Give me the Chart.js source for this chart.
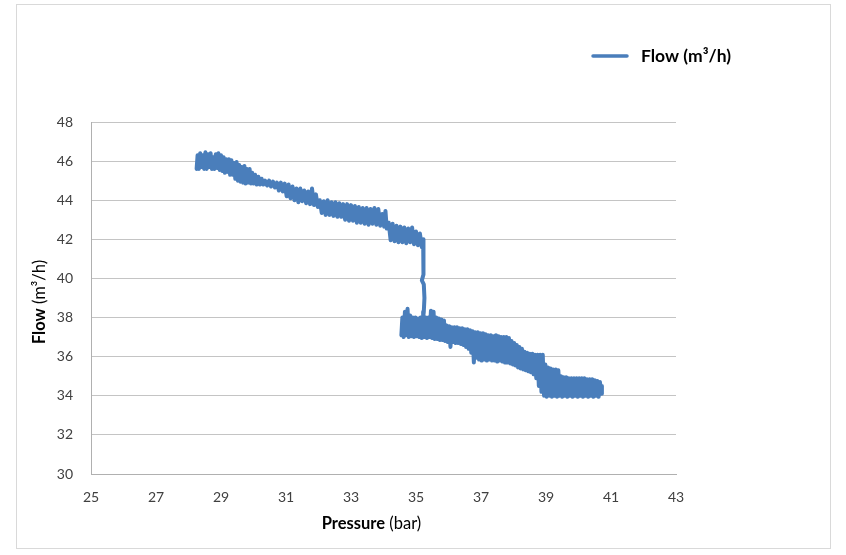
<!DOCTYPE html>
<html>
<head>
<meta charset="utf-8">
<script src="https://cdn.jsdelivr.net/npm/chart.js@4/dist/chart.umd.min.js"></script>
<style>
  html, body { margin: 0; padding: 0; background: #ffffff; }
  #wrap { width: 846px; height: 555px; position: relative; }
</style>
</head>
<body>
<div id="wrap"><canvas id="c" width="846" height="555"></canvas></div>
<script>
// ---- data (pressure in bar, flow in m3/h) ----
const seriesLabel = "Flow (m\u00B3/h)";
const xTitle = ["Pressure", " (bar)"];
const yTitle = ["Flow", " (m\u00B3/h)"];
const xTicks = [25, 27, 29, 31, 33, 35, 37, 39, 41, 43];
const yTicks = [30, 32, 34, 36, 38, 40, 42, 44, 46, 48];

// upper branch (≈28.2 – 35.2 bar)
const pressureUpper = [
  28.25,28.28,28.32,28.36,28.40,28.44,28.48,28.52,28.56,28.60,
  28.64,28.68,28.72,28.76,28.80,28.84,28.88,28.92,28.96,29.00,
  29.04,29.08,29.12,29.16,29.20,29.24,29.28,29.32,29.36,29.40,
  29.44,29.48,29.52,29.56,29.60,29.64,29.68,29.72,29.76,29.80,
  29.84,29.88,29.92,29.96,30.00,30.05,30.10,30.15,30.20,30.25,
  30.30,30.36,30.42,30.48,30.54,30.60,30.66,30.72,30.78,30.84,
  30.90,30.96,31.02,31.08,31.14,31.20,31.26,31.32,31.38,31.44,
  31.50,31.56,31.62,31.68,31.74,31.80,31.86,31.92,31.98,32.04,
  32.10,32.16,32.22,32.28,32.34,32.40,32.46,32.52,32.58,32.64,
  32.70,32.76,32.82,32.88,32.94,33.00,33.06,33.12,33.18,33.24,
  33.30,33.36,33.42,33.48,33.54,33.60,33.66,33.72,33.78,33.84,
  33.90,33.96,34.02,34.06,34.10,34.16,34.22,34.28,34.34,34.40,
  34.46,34.52,34.58,34.64,34.70,34.76,34.82,34.88,34.94,35.00,
  35.06,35.12,35.18,35.22
];
const flowUpper = [
  45.6,46.3,45.6,46.4,45.7,46.3,45.6,46.45,45.6,46.35,
  45.7,46.4,45.6,46.2,45.6,46.35,45.65,46.4,45.55,46.3,
  45.5,46.2,45.4,46.1,45.45,46.1,45.3,46.05,45.3,45.9,
  45.1,45.95,45.0,45.8,44.95,45.7,44.9,45.75,44.85,45.6,
  44.9,45.6,44.85,45.4,44.85,45.3,44.8,45.2,44.8,45.1,
  44.8,45.0,44.75,45.0,44.7,44.95,44.65,44.9,44.5,44.9,
  44.45,44.85,44.2,44.8,44.1,44.7,44.0,44.6,43.9,44.6,
  43.95,44.5,43.85,44.45,43.8,44.6,43.75,44.3,43.65,44.0,
  43.35,43.95,43.25,44.0,43.25,43.9,43.2,43.9,43.15,43.85,
  43.15,43.8,43.0,43.8,42.95,43.75,42.95,43.7,42.85,43.65,
  42.85,43.6,42.8,43.6,42.75,43.55,42.8,43.6,42.75,43.55,
  42.7,43.3,42.65,43.45,42.55,42.85,41.95,42.8,41.9,42.7,
  41.85,42.65,41.85,42.6,41.8,42.55,41.85,42.6,41.75,42.4,
  41.7,42.3,41.6,42.0
];

// transition (drop at ≈35.2 bar)
const pressureDrop = [35.24,35.22,35.18,35.24,35.26,35.24,35.22];
const flowDrop     = [41.0, 40.2, 39.9, 39.7, 39.0, 38.3, 38.0];

// lower branch (≈34.5 – 40.7 bar)
const pressureLower = [
  34.55,34.58,34.62,34.66,34.70,34.74,34.78,34.82,34.86,34.90,
  34.94,34.98,35.02,35.06,35.10,35.14,35.18,35.22,35.26,35.30,
  35.34,35.38,35.42,35.46,35.50,35.54,35.58,35.62,35.66,35.70,
  35.74,35.78,35.82,35.86,35.90,35.94,35.98,36.02,36.06,36.10,
  36.14,36.18,36.22,36.26,36.30,36.34,36.38,36.42,36.46,36.50,
  36.54,36.58,36.62,36.66,36.70,36.74,36.78,36.82,36.86,36.90,
  36.94,36.98,37.02,37.06,37.10,37.14,37.18,37.22,37.26,37.30,
  37.34,37.38,37.42,37.46,37.50,37.54,37.58,37.62,37.66,37.70,
  37.74,37.78,37.82,37.86,37.90,37.94,37.98,38.02,38.06,38.10,
  38.14,38.18,38.22,38.26,38.30,38.34,38.38,38.42,38.46,38.50,
  38.54,38.58,38.62,38.66,38.70,38.74,38.78,38.82,38.86,38.90,
  38.94,38.98,39.02,39.06,39.10,39.14,39.18,39.22,39.26,39.30,
  39.34,39.38,39.42,39.46,39.50,39.54,39.58,39.62,39.66,39.70,
  39.74,39.78,39.82,39.86,39.90,39.94,39.98,40.02,40.06,40.10,
  40.14,40.18,40.22,40.26,40.30,40.34,40.38,40.42,40.46,40.50,
  40.54,40.58,40.62,40.66,40.70,40.72
];
const flowLower = [
  37.1,38.0,37.0,38.3,37.1,38.45,37.0,38.1,37.05,38.0,
  37.0,38.0,37.05,37.95,37.0,38.0,36.95,38.05,37.0,38.0,
  36.95,38.0,37.0,38.35,36.95,38.3,36.9,38.0,36.9,37.95,
  36.85,37.9,36.85,37.85,36.8,37.6,36.75,37.55,36.5,37.5,
  36.75,37.5,36.7,37.5,36.7,37.45,36.65,37.45,36.6,37.4,
  36.5,37.4,36.4,37.35,36.2,37.3,35.7,37.25,35.95,37.25,
  35.85,37.2,35.8,37.2,35.85,37.15,35.8,37.1,35.85,37.1,
  35.8,37.05,35.8,37.1,35.75,37.05,35.8,37.0,35.75,37.0,
  35.7,37.0,35.7,36.95,35.65,36.8,35.6,36.7,35.55,36.6,
  35.45,36.5,35.4,36.4,35.35,36.25,35.3,36.2,35.25,36.15,
  35.2,36.15,35.1,36.1,34.9,36.1,34.5,36.1,34.2,36.1,
  34.0,35.6,33.95,35.45,34.0,35.4,33.95,35.35,34.0,35.35,
  33.95,35.3,34.0,35.0,33.95,34.95,34.0,34.95,33.95,34.9,
  34.0,34.9,33.95,34.9,34.0,34.9,33.95,34.9,34.0,34.9,
  33.95,34.9,34.0,34.85,33.95,34.85,34.0,34.85,33.95,34.8,
  34.0,34.75,33.95,34.7,34.1,34.5
];

// ---- build the dataset from the arrays ----
const pressure = pressureUpper.concat(pressureDrop, pressureLower);
const flow = flowUpper.concat(flowDrop, flowLower);
const points = pressure.map((p, i) => ({ x: p, y: flow[i] }));

const LINE_COLOR = '#4a7ebb';
const FONT = 'Lato, "Open Sans", "DejaVu Sans", sans-serif';

function drawParts(ctx, parts, x, y, align, size) {
  // parts: [[text, weight], ...]
  let total = 0;
  const widths = parts.map(([t, w]) => {
    ctx.font = w + ' ' + size + 'px ' + FONT;
    const m = ctx.measureText(t).width;
    total += m;
    return m;
  });
  let cx = align === 'center' ? x - total / 2 : x;
  ctx.textAlign = 'left';
  ctx.textBaseline = 'middle';
  parts.forEach(([t, w], i) => {
    ctx.font = w + ' ' + size + 'px ' + FONT;
    ctx.fillText(t, cx, y);
    cx += widths[i];
  });
}

const decor = {
  id: 'decor',
  beforeDraw(chart) {
    const ctx = chart.ctx;
    ctx.save();
    ctx.fillStyle = '#ffffff';
    ctx.fillRect(0, 0, chart.width, chart.height);
    ctx.strokeStyle = '#d9d9d9';
    ctx.lineWidth = 1;
    ctx.strokeRect(16.5, 4.5, 814, 544);
    ctx.restore();
  },
  afterDraw(chart) {
    const ctx = chart.ctx;
    const a = chart.chartArea;
    ctx.save();
    ctx.fillStyle = '#000000';
    // x axis title
    drawParts(ctx, [[xTitle[0], 'bold'], [xTitle[1], 'normal']],
      (a.left + a.right) / 2 - 12, a.bottom + 50, 'center', 16.5);
    // y axis title (rotated)
    ctx.save();
    ctx.translate(a.left - 51, (a.top + a.bottom) / 2 + 4);
    ctx.rotate(-Math.PI / 2);
    drawParts(ctx, [[yTitle[0], 'bold'], [yTitle[1], 'normal']], 0, 0, 'center', 16.5);
    ctx.restore();
    // legend
    const ds = chart.data.datasets[0];
    const lx = a.right - 83, ly = 56;
    ctx.strokeStyle = ds.borderColor;
    ctx.lineWidth = 3.5;
    ctx.lineCap = 'round';
    ctx.beginPath();
    ctx.moveTo(lx, ly);
    ctx.lineTo(lx + 34, ly);
    ctx.stroke();
    drawParts(ctx, [[ds.label, 'bold']], lx + 48, ly, 'left', 17.5);
    ctx.restore();
  }
};

new Chart(document.getElementById('c'), {
  type: 'scatter',
  data: {
    datasets: [{
      label: seriesLabel,
      data: points,
      showLine: true,
      borderColor: LINE_COLOR,
      backgroundColor: LINE_COLOR,
      borderWidth: 4,
      borderJoinStyle: 'round',
      borderCapStyle: 'round',
      pointRadius: 0,
      pointHoverRadius: 0,
      tension: 0
    }]
  },
  options: {
    responsive: false,
    animation: false,
    events: [],
    layout: { padding: { left: 41, right: 170, top: 122, bottom: 41 } },
    plugins: { legend: { display: false }, tooltip: { enabled: false } },
    scales: {
      x: {
        type: 'linear',
        min: xTicks[0],
        max: xTicks[xTicks.length - 1],
        afterBuildTicks: (s) => { s.ticks = xTicks.map(v => ({ value: v })); },
        afterFit: (s) => { s.height = 40; },
        grid: { display: false, drawTicks: false },
        border: { display: true, color: '#b0b0b0', width: 1 },
        ticks: { color: '#404040', padding: 15, font: { family: FONT, size: 14 } }
      },
      y: {
        type: 'linear',
        min: yTicks[0],
        max: yTicks[yTicks.length - 1],
        afterBuildTicks: (s) => { s.ticks = yTicks.map(v => ({ value: v })); },
        afterFit: (s) => { s.width = 50; },
        grid: { color: '#c4c4c4', drawTicks: false, lineWidth: 1 },
        border: { display: true, color: '#b0b0b0', width: 1 },
        ticks: { color: '#404040', padding: 18, font: { family: FONT, size: 14 } }
      }
    }
  },
  plugins: [decor]
});
</script>
</body>
</html>
